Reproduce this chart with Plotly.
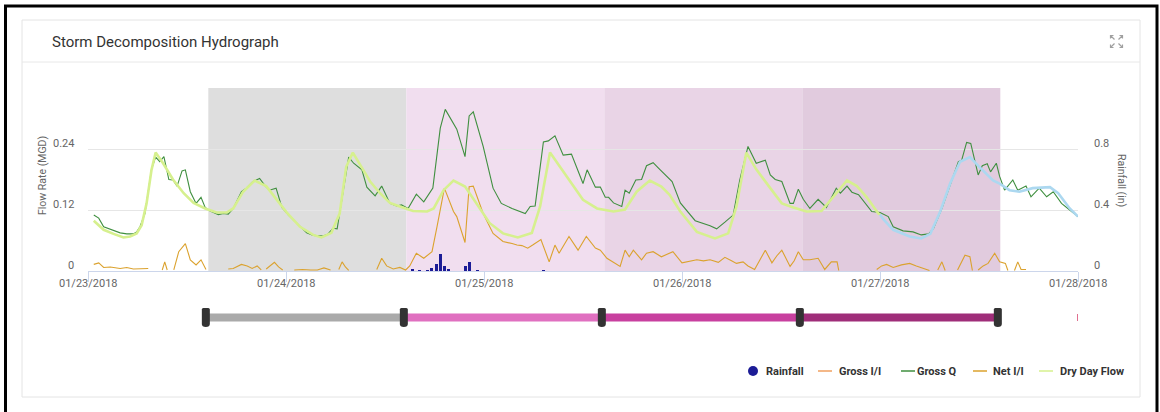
import pandas as pd
import plotly.graph_objects as go

# ---------------- data ----------------
START = pd.Timestamp("2018-01-23")

# (hours after 01/23/2018 00:00, MGD)
gross_q = [
    (0.7, 0.110), (1.3, 0.104), (1.9, 0.087), (2.7, 0.082), (3.9, 0.075), (4.7, 0.073),
    (5.5, 0.073), (5.9, 0.077), (6.3, 0.087), (6.9, 0.113), (7.7, 0.200), (8.2, 0.224),
    (8.7, 0.215), (9.2, 0.225), (9.8, 0.180), (10.3, 0.179), (10.8, 0.167), (11.4, 0.197),
    (11.8, 0.199), (12.4, 0.156), (13.1, 0.133), (13.7, 0.145), (14.2, 0.125), (14.8, 0.118),
    (15.8, 0.111), (16.4, 0.113), (17.0, 0.112), (17.6, 0.123), (18.6, 0.156), (19.2, 0.163),
    (20.0, 0.176), (20.8, 0.182), (21.5, 0.167), (22.0, 0.159), (22.8, 0.163), (23.5, 0.125),
    (24.3, 0.110), (25.3, 0.094), (26.5, 0.075), (27.3, 0.070), (28.5, 0.069), (29.1, 0.073),
    (29.7, 0.084), (30.2, 0.083), (31.0, 0.166), (31.6, 0.224), (32.2, 0.212), (33.2, 0.199),
    (33.8, 0.165), (34.8, 0.148), (35.6, 0.167), (36.6, 0.133), (37.4, 0.128), (38.0, 0.130),
    (38.8, 0.123), (39.8, 0.151), (40.7, 0.136), (41.8, 0.163), (42.7, 0.281), (43.3, 0.318),
    (44.7, 0.279), (45.7, 0.225), (46.2, 0.305), (46.7, 0.313), (47.9, 0.245), (49.1, 0.163),
    (50.1, 0.133), (51.4, 0.123), (53.0, 0.113), (53.6, 0.127), (54.2, 0.128), (55.2, 0.254),
    (55.8, 0.256), (56.6, 0.266), (57.6, 0.228), (58.6, 0.230), (60.0, 0.172), (60.5, 0.199),
    (61.5, 0.165), (62.1, 0.165), (62.7, 0.145), (63.1, 0.145), (63.7, 0.134), (64.7, 0.127),
    (65.1, 0.159), (65.6, 0.153), (66.4, 0.179), (67.1, 0.180), (67.7, 0.207), (68.5, 0.213),
    (69.3, 0.200), (70.8, 0.176), (71.8, 0.134), (73.6, 0.099), (75.4, 0.089), (76.2, 0.083),
    (77.2, 0.096), (78.2, 0.110), (79.0, 0.179), (80.0, 0.245), (81.0, 0.212), (82.1, 0.218),
    (82.7, 0.189), (83.3, 0.180), (84.1, 0.176), (85.1, 0.133), (85.5, 0.133), (86.1, 0.161),
    (86.7, 0.141), (87.5, 0.123), (88.5, 0.141), (89.5, 0.125), (90.7, 0.163), (91.2, 0.153),
    (92.0, 0.167), (92.6, 0.155), (93.4, 0.150), (95.0, 0.117), (96.0, 0.115), (97.0, 0.107),
    (97.6, 0.087), (98.8, 0.079), (100.0, 0.077), (101.0, 0.071), (101.9, 0.073), (102.5, 0.084),
    (103.5, 0.123), (104.5, 0.169), (105.5, 0.215), (105.9, 0.218), (106.5, 0.253), (107.0, 0.251),
    (107.9, 0.189), (108.4, 0.207), (109.0, 0.211), (109.4, 0.195), (110.1, 0.212), (110.5, 0.186),
    (111.1, 0.159), (112.1, 0.179), (112.7, 0.159), (113.7, 0.167), (114.3, 0.146), (115.3, 0.163),
    (116.2, 0.146), (117.0, 0.156), (118.0, 0.133), (119.0, 0.120), (120.0, 0.107),
]

dry_day_weekday = [
    (0.7, 0.099), (1.9, 0.081), (3.1, 0.073), (4.3, 0.066), (5.1, 0.068), (5.9, 0.074),
    (6.5, 0.090), (7.1, 0.133), (7.7, 0.199), (8.2, 0.233), (9.1, 0.212), (10.3, 0.180),
    (11.6, 0.153), (12.8, 0.134), (14.2, 0.123), (15.6, 0.115), (16.8, 0.115), (17.6, 0.123),
    (18.8, 0.156), (20.2, 0.178), (21.6, 0.167), (22.9, 0.140), (24.1, 0.115), (25.7, 0.087),
    (27.3, 0.071), (28.3, 0.066), (29.5, 0.075), (30.5, 0.113), (31.3, 0.205), (32.1, 0.233),
    (33.0, 0.209), (34.2, 0.176), (35.4, 0.153), (36.6, 0.134), (37.8, 0.127), (39.4, 0.118),
    (41.1, 0.117), (41.9, 0.123), (43.1, 0.159), (44.3, 0.178), (45.7, 0.166), (47.1, 0.133),
    (48.7, 0.094), (50.3, 0.074), (52.1, 0.066), (53.8, 0.075), (54.8, 0.127), (56.0, 0.233),
    (57.2, 0.205), (58.4, 0.176), (60.0, 0.140), (61.7, 0.123), (63.7, 0.117), (65.1, 0.121),
    (66.5, 0.156), (68.1, 0.178), (69.5, 0.166), (70.5, 0.150), (71.8, 0.117), (73.8, 0.077),
    (76.0, 0.064), (77.6, 0.074), (78.6, 0.127), (79.8, 0.233), (81.0, 0.200), (82.7, 0.163),
    (84.1, 0.133), (85.5, 0.125), (87.1, 0.117), (88.9, 0.118), (90.3, 0.146), (92.0, 0.178),
    (93.2, 0.167), (94.4, 0.145), (95.8, 0.113), (96.0, 0.111),
]

dry_day_weekend = [
    (96.0, 0.111), (96.4, 0.102), (97.6, 0.081), (99.6, 0.068), (101.0, 0.064), (102.1, 0.073),
    (103.3, 0.117), (104.5, 0.172), (105.7, 0.215), (106.9, 0.224), (108.1, 0.204), (109.7, 0.178),
    (110.5, 0.172), (111.7, 0.159), (112.9, 0.156), (114.5, 0.163), (116.6, 0.165), (117.6, 0.153),
    (119.0, 0.123), (120.0, 0.107),
]

# None marks a gap in the line
net_ii = [
    (0.7, 0.013), (1.3, 0.016), (1.9, 0.007), (2.7, 0.008), (3.9, 0.005), (4.7, 0.007),
    (5.5, 0.004), (6.3, 0.004), (7.3, 0.005), (7.8, None),
    (9.0, 0.002), (9.3, 0.018), (9.6, 0.002), (10.0, None),
    (10.4, 0.002), (11.0, 0.038), (11.8, 0.054), (12.4, 0.022), (13.1, 0.012), (13.7, 0.022),
    (14.3, 0.003), (15.0, None),
    (17.0, 0.004), (17.6, 0.005), (18.6, 0.013), (19.3, 0.010), (19.9, 0.005), (20.5, 0.010),
    (21.0, 0.002), (21.3, None),
    (21.6, 0.004), (22.6, 0.017), (23.1, 0.008), (23.6, 0.002), (24.0, None),
    (25.0, 0.002), (26.0, 0.003), (27.0, 0.002), (27.8, 0.002), (28.6, 0.006), (29.4, 0.002),
    (29.8, None),
    (30.4, 0.003), (30.8, 0.018), (31.2, 0.008), (31.6, 0.001), (32.0, None),
    (35.0, 0.003), (35.6, 0.025), (36.2, 0.010), (37.0, 0.004), (37.8, 0.007), (38.5, 0.002),
    (39.0, 0.010), (39.8, 0.035), (40.7, 0.025), (41.7, 0.038), (42.3, 0.087), (43.2, 0.163),
    (44.3, 0.117), (44.7, 0.107), (45.7, 0.056), (46.2, 0.166), (46.7, 0.167), (47.9, 0.113),
    (49.1, 0.074), (50.3, 0.058), (51.4, 0.054), (52.0, 0.051), (52.6, 0.050), (53.3, 0.045),
    (53.9, 0.051), (54.9, 0.062), (55.9, 0.018), (56.6, 0.051), (57.1, 0.035), (58.3, 0.068),
    (59.4, 0.041), (60.4, 0.068), (61.5, 0.045), (62.1, 0.041), (62.9, 0.025), (64.0, 0.013),
    (64.5, 0.009), (65.1, 0.041), (65.6, 0.028), (66.1, 0.041), (67.1, 0.022), (67.7, 0.035),
    (68.5, 0.038), (69.5, 0.028), (70.9, 0.038), (72.0, 0.016), (73.0, 0.019), (73.8, 0.022),
    (74.6, 0.020), (75.4, 0.022), (76.4, 0.017), (77.2, 0.027), (78.0, 0.020), (78.6, 0.015),
    (79.4, 0.018), (80.0, 0.010), (80.8, 0.003), (81.5, 0.025), (82.1, 0.041), (82.9, 0.016),
    (83.5, 0.030), (84.1, 0.041), (84.6, 0.025), (85.1, 0.009), (85.6, 0.020), (86.1, 0.038),
    (86.7, 0.022), (87.5, 0.022), (88.5, 0.025), (89.3, 0.003), (90.1, 0.018), (90.8, 0.018),
    (91.0, 0.001), (92.0, None),
    (95.6, 0.003), (96.2, 0.010), (96.8, 0.013), (97.6, 0.007), (98.6, 0.012), (99.6, 0.015),
    (100.4, 0.010), (101.2, 0.005), (102.0, 0.001), (102.5, None),
    (103.0, 0.002), (103.5, 0.018), (103.9, 0.001), (104.5, None),
    (105.4, 0.002), (106.3, 0.031), (106.9, 0.028), (107.2, 0.001), (107.8, None),
    (107.9, 0.002), (108.5, 0.010), (109.1, 0.015), (109.9, 0.035), (110.5, 0.018), (111.2, 0.015),
    (111.5, 0.001), (112.0, None),
    (112.3, 0.001), (112.7, 0.018), (113.1, 0.003), (113.7, 0.003),
]

gross_ii = []  # legend-only series in the reference

# (hours after 01/23/2018 00:00, inches)
rainfall = [
    (39.3, 0.015), (40.2, 0.005), (41.1, 0.006), (41.6, 0.020), (42.2, 0.045), (42.7, 0.110),
    (43.2, 0.033), (43.7, 0.010), (45.7, 0.033), (46.2, 0.057), (47.2, 0.005), (55.2, 0.005),
]

storm_boundaries = ["2018-01-23 14:35", "2018-01-24 14:35", "2018-01-25 14:35",
                    "2018-01-26 14:35", "2018-01-27 14:35"]
x_tick_dates = ["2018-01-23", "2018-01-24", "2018-01-25", "2018-01-26", "2018-01-27", "2018-01-28"]
flow_ticks = [0, 0.12, 0.24]
rain_ticks = [0, 0.4, 0.8]
flow_grid = [0, 0.12, 0.24, 0.36]

series_names = ["Rainfall", "Gross I/I", "Gross Q", "Net I/I", "Dry Day Flow"]

# ---------------- styles ----------------
C_RAIN = "#1c1c96"
C_GII = "#f0a060"
C_GQ = "#3f8f3f"
C_NII = "#dba22e"
C_DDF = "#d6f08e"
C_DDF_WE = "#acd8f0"
series_colors = [C_RAIN, C_GII, C_GQ, C_NII, C_DDF]
band_colors = ["#dedede", "#f1deef", "#e9d4e6", "#e1cbde"]
timeline_colors = ["#aaaaaa", "#e070c0", "#c8409f", "#9f2d79"]
FONT = "Roboto"


def to_time(hours):
    return [START + pd.Timedelta(hours=h) for h in hours]


def unzip(pairs):
    return [p[0] for p in pairs], [p[1] for p in pairs]


W, H = 1160, 412
L, R, T, B = 88, 1078, 88, 330  # paper box in pixels


def px(X):
    return (X - L) / (R - L)


def py(Y):
    return (B - Y) / (B - T)


fig = go.Figure()

# rainfall bars
rh, rv = unzip(rainfall)
fig.add_trace(go.Bar(x=to_time(rh), y=rv, yaxis="y2", marker_color=C_RAIN,
                     marker_line_width=0, width=1.3e6, name="Rainfall", showlegend=False))
# gross I/I (no visible points)
fig.add_trace(go.Scatter(x=to_time([p[0] for p in gross_ii]), y=[p[1] for p in gross_ii],
                         mode="lines", line=dict(color=C_GII, width=1.2), name="Gross I/I",
                         showlegend=False))
gh, gv = unzip(gross_q)
fig.add_trace(go.Scatter(x=to_time(gh), y=gv, mode="lines", line=dict(color=C_GQ, width=1.1),
                         name="Gross Q", showlegend=False))
nh, nv = unzip(net_ii)
fig.add_trace(go.Scatter(x=to_time(nh), y=nv, mode="lines", connectgaps=False,
                         line=dict(color=C_NII, width=1.1), name="Net I/I", showlegend=False))
dh, dv = unzip(dry_day_weekday)
fig.add_trace(go.Scatter(x=to_time(dh), y=dv, mode="lines", line=dict(color=C_DDF, width=2.6),
                         name="Dry Day Flow", showlegend=False))
eh, ev = unzip(dry_day_weekend)
fig.add_trace(go.Scatter(x=to_time(eh), y=ev, mode="lines", line=dict(color=C_DDF_WE, width=2.6),
                         name="Dry Day Flow (weekend)", showlegend=False))

# timeline bars under the chart
for i in range(len(storm_boundaries) - 1):
    fig.add_trace(go.Scatter(x=[storm_boundaries[i], storm_boundaries[i + 1]], y=[0.5, 0.5],
                             xaxis="x2", yaxis="y3", mode="lines",
                             line=dict(color=timeline_colors[i], width=8),
                             showlegend=False, hoverinfo="skip"))

shapes = []
# outer black frame and card
shapes.append(dict(type="rect", xref="paper", yref="paper", x0=px(5.5), x1=px(1157),
                   y0=py(440), y1=py(6), line=dict(color="black", width=3), layer="below"))
shapes.append(dict(type="rect", xref="paper", yref="paper", x0=px(22), x1=px(1140),
                   y0=py(397), y1=py(20), line=dict(color="#e4e4e4", width=1), layer="below"))
shapes.append(dict(type="line", xref="paper", yref="paper", x0=px(22), x1=px(1140),
                   y0=py(62), y1=py(62), line=dict(color="#e8e8e8", width=1), layer="below"))

# storm period bands
for i in range(len(storm_boundaries) - 1):
    shapes.append(dict(type="rect", xref="x", yref="y domain", x0=storm_boundaries[i],
                       x1=storm_boundaries[i + 1], y0=0, y1=1, fillcolor=band_colors[i],
                       line=dict(width=0), layer="below"))

# timeline handles
for b in storm_boundaries:
    shapes.append(dict(type="path", xref="x2", yref="paper", xsizemode="pixel", ysizemode="pixel",
                       xanchor=b, yanchor=py(317.5),
                       path="M -4 8 Q -4 9.5 -2.5 9.5 L 2.5 9.5 Q 4 9.5 4 8 L 4 -6.5 "
                            "Q 4 -9.5 0 -9.5 Q -4 -9.5 -4 -6.5 Z",
                       fillcolor="#333333", line=dict(width=0)))
# small end marker of the timeline track
shapes.append(dict(type="line", xref="paper", yref="paper", x0=px(1077.5), x1=px(1077.5),
                   y0=py(321), y1=py(314), line=dict(color="#e07090", width=1)))

# expand icon (top-right)
icon = "#a0a0a0"
cx, cy = 1116.5, 41.5
for sx, sy in [(-1, -1), (1, -1), (-1, 1), (1, 1)]:
    x_in, y_in = cx + sx * 2, cy + sy * 2
    x_out, y_out = cx + sx * 6, cy + sy * 6
    p = (f"M {px(x_in)} {py(y_in)} L {px(x_out)} {py(y_out)} "
         f"M {px(x_out - sx * 3)} {py(y_out)} L {px(x_out)} {py(y_out)} L {px(x_out)} {py(y_out - sy * 3)}")
    shapes.append(dict(type="path", xref="paper", yref="paper", path=p,
                       line=dict(color=icon, width=1.2)))

annotations = []
# title
annotations.append(dict(text="Storm Decomposition Hydrograph", xref="paper", yref="paper",
                        x=px(50), y=py(42), xanchor="left", yanchor="middle", showarrow=False,
                        font=dict(family=FONT, size=15, color="#333333")))
tick_font = dict(family=FONT, size=11, color="#666666")
for d in x_tick_dates:
    annotations.append(dict(text=pd.Timestamp(d).strftime("%m/%d/%Y"), xref="x", yref="paper",
                            x=d, y=py(283), xanchor="center", yanchor="middle",
                            showarrow=False, font=tick_font))
for v in flow_ticks:
    annotations.append(dict(text=f"{v:g}", xref="paper", yref="y", x=px(76), y=v,
                            xanchor="right", yanchor="middle", yshift=6, showarrow=False,
                            font=tick_font))
for v in rain_ticks:
    annotations.append(dict(text=f"{v:g}", xref="paper", yref="y2", x=px(1092), y=v,
                            xanchor="left", yanchor="middle", yshift=6, showarrow=False,
                            font=tick_font))
annotations.append(dict(text="Flow Rate (MGD)", xref="paper", yref="paper", x=px(42), y=py(176),
                        textangle=-90, showarrow=False, xanchor="center", yanchor="middle",
                        font=dict(family=FONT, size=10.5, color="#666666")))
annotations.append(dict(text="Rainfall (in)", xref="paper", yref="paper", x=px(1122), y=py(180),
                        textangle=90, showarrow=False, xanchor="center", yanchor="middle",
                        font=dict(family=FONT, size=10.5, color="#666666")))

# custom legend
legend_y = py(371)
symbol_x = [753, 818, 901, 973, 1039]
text_x = [764, 837, 915, 991, 1058]
for i, name in enumerate(series_names):
    if i == 0:
        shapes.append(dict(type="circle", xref="paper", yref="paper",
                           x0=px(symbol_x[i] - 5), x1=px(symbol_x[i] + 5),
                           y0=py(376), y1=py(366), fillcolor=series_colors[i],
                           line=dict(width=0)))
    else:
        shapes.append(dict(type="line", xref="paper", yref="paper", x0=px(symbol_x[i]),
                           x1=px(symbol_x[i] + 14), y0=legend_y, y1=legend_y,
                           line=dict(color=series_colors[i], width=1.5)))
    annotations.append(dict(text=f"<b>{name}</b>", xref="paper", yref="paper", x=px(text_x[i]),
                            y=legend_y, xanchor="left", yanchor="middle", showarrow=False,
                            font=dict(family=FONT, size=11, color="#333333")))

x2_range = [START + pd.Timedelta(minutes=18), START + pd.Timedelta(days=5, minutes=18)]

fig.update_layout(
    width=W, height=H, autosize=False,
    margin=dict(l=L, r=W - R, t=T, b=H - B, pad=0),
    paper_bgcolor="white", plot_bgcolor="white",
    showlegend=False, bargap=0,
    xaxis=dict(type="date", range=[x_tick_dates[0], x_tick_dates[-1]], domain=[0, 1],
               anchor="y", showgrid=False, zeroline=False, showline=True, linecolor="#ccd6eb",
               linewidth=1, ticks="outside", ticklen=10, tickcolor="#ccd6eb", tickwidth=1,
               tickvals=x_tick_dates, showticklabels=False, fixedrange=True),
    yaxis=dict(range=[0, 0.36], domain=[(B - 271) / (B - T), 1], tickvals=flow_grid,
               showticklabels=False, gridcolor="#e6e6e6", gridwidth=1, zeroline=False,
               showline=False, fixedrange=True),
    yaxis2=dict(range=[0, 1.2], overlaying="y", side="right", showgrid=False,
                showticklabels=False, zeroline=False, fixedrange=True),
    xaxis2=dict(type="date", range=x2_range, domain=[0, 1], anchor="y3", visible=False,
                fixedrange=True),
    yaxis3=dict(range=[0, 1], domain=[0, 25 / (B - T)], visible=False, fixedrange=True),
    shapes=shapes, annotations=annotations,
    font=dict(family=FONT),
)

fig.write_html("out.html", config={"displayModeBar": False},
               post_script="document.body.style.margin='0';document.body.style.overflow='hidden';")
